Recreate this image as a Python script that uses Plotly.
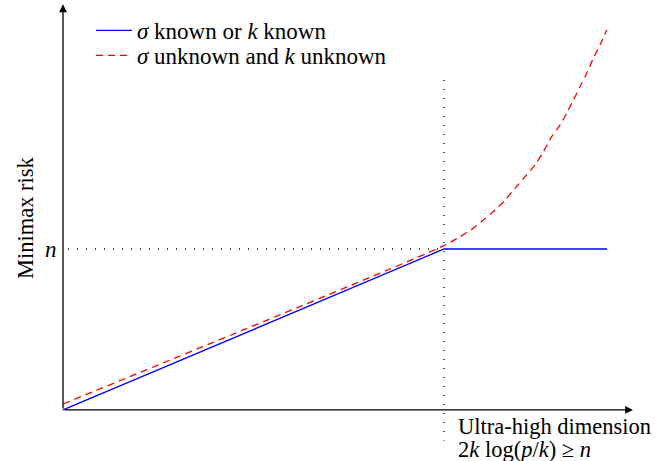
import plotly.graph_objects as go

# Data (in units: x where threshold = 10, y where n = 1)
threshold_x = 10.0
n_level = 1.0
blue_x = [0.0, 10.0, 14.28]
blue_y = [0.0, 1.0, 1.0]
red_x = [0.0, 9.98, 10.375, 10.727, 11.031, 11.339, 11.601, 11.864, 12.126, 12.388,
         12.606, 12.827, 13.045, 13.220, 13.394, 13.570, 13.745, 13.919, 14.094, 14.270]
red_y = [0.037, 1.019, 1.070, 1.122, 1.180, 1.242, 1.304, 1.377, 1.449, 1.522,
         1.604, 1.698, 1.770, 1.843, 1.925, 2.008, 2.091, 2.184, 2.267, 2.360]
x_axis_end = 14.96
y_axis_end = 2.52
vline_top = 2.05
vline_bottom = -0.19
hline_start = 0.13

FONT = "Liberation Serif"
W, H = 669, 461

fig = go.Figure()
fig.add_trace(go.Scatter(x=blue_x, y=blue_y, mode="lines",
                         line=dict(color="#0000ff", width=1.3),
                         name="<i>σ</i> known or <i>k</i> known", legend="legend"))
fig.add_trace(go.Scatter(x=red_x, y=red_y, mode="lines", line_shape="spline",
                         line=dict(color="#ff0000", width=1.3, dash="7px,5px", smoothing=0.8),
                         name="<i>σ</i> unknown and <i>k</i> unknown", legend="legend2"))

# dotted guides
fig.add_trace(go.Scatter(x=[hline_start, threshold_x], y=[n_level, n_level], mode="lines",
                         line=dict(color="black", width=1.3, dash="1px,8px"),
                         showlegend=False, hoverinfo="skip"))
fig.add_trace(go.Scatter(x=[threshold_x, threshold_x], y=[vline_top, vline_bottom], mode="lines",
                         line=dict(color="black", width=1.3, dash="1px,8px"),
                         showlegend=False, hoverinfo="skip"))

# axes with arrows
fig.add_annotation(x=x_axis_end, y=0, ax=0, ay=0, xref="x", yref="y", axref="x", ayref="y",
                   showarrow=True, arrowhead=2, arrowsize=1.2, arrowwidth=1.3, arrowcolor="black", text="")
fig.add_annotation(x=0, y=y_axis_end, ax=0, ay=0, xref="x", yref="y", axref="x", ayref="y",
                   showarrow=True, arrowhead=2, arrowsize=1.2, arrowwidth=1.3, arrowcolor="black", text="")

# texts
fig.add_annotation(x=0, y=n_level, xref="x", yref="y", text="<i>n</i>", showarrow=False,
                   xanchor="right", xshift=-4, font=dict(family=FONT, size=23, color="black"))
fig.add_annotation(x=25/W, y=1-218/H, xref="paper", yref="paper", text="Minimax risk",
                   showarrow=False, xanchor="center", yanchor="middle",
                   textangle=-90, font=dict(family=FONT, size=22.5, color="black"))
fig.add_annotation(x=threshold_x, y=0, xref="x", yref="y",
                   text="Ultra-high dimension",
                   showarrow=False, xanchor="left", yanchor="middle", align="left",
                   xshift=12, yshift=-17,
                   font=dict(family=FONT, size=22.5, color="black"))
fig.add_annotation(x=threshold_x, y=0, xref="x", yref="y",
                   text="2<i>k</i> log(<i>p</i>/<i>k</i>) ≥ <i>n</i>",
                   showarrow=False, xanchor="left", yanchor="middle", align="left",
                   xshift=12, yshift=-40,
                   font=dict(family=FONT, size=22.5, color="black"))

legend_common = dict(xanchor="left", yanchor="top", bgcolor="rgba(0,0,0,0)",
                     font=dict(family=FONT, size=23, color="black"), itemwidth=36)

fig.update_layout(
    width=W, height=H,
    margin=dict(l=0, r=0, t=0, b=0),
    plot_bgcolor="white", paper_bgcolor="white",
    xaxis=dict(range=[-1.654, 15.906], visible=False),
    yaxis=dict(range=[-0.317, 2.547], visible=False),
    showlegend=True,
    legend=dict(x=91/W, y=1-9/H, **legend_common),
    legend2=dict(x=91/W, y=1-34/H, **legend_common),
)
fig.write_html("out.html", config={"displayModeBar": False},
               post_script="document.body.style.margin='0';")
